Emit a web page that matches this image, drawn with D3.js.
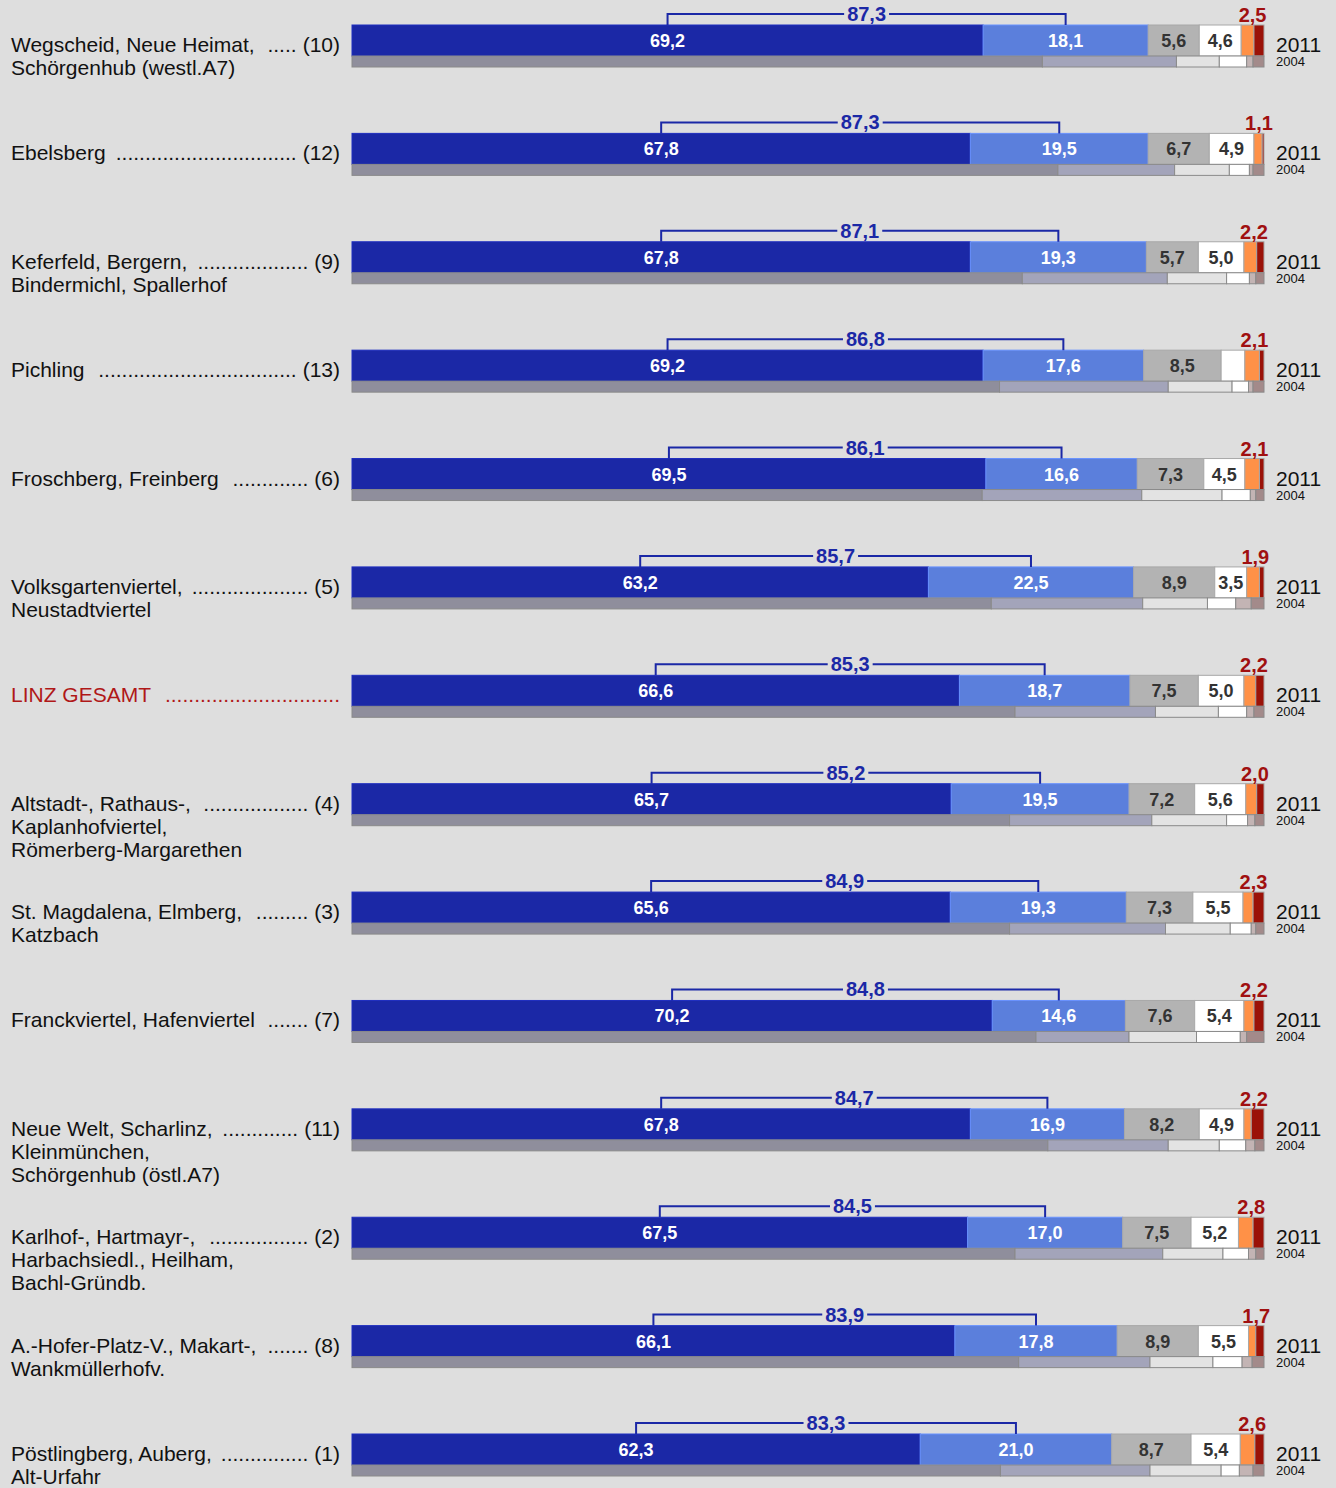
<!DOCTYPE html>
<html>
<head>
<meta charset="utf-8">
<script src="https://cdn.jsdelivr.net/npm/d3@7"></script>
<style>
  body { margin: 0; background: #dedede; }
  svg { display: block; font-family: "Liberation Sans", Arial, sans-serif; }
</style>
</head>
<body>
<script>
const width = 1336;
const height = 1488;

// district labels (lines) and number in brackets
const districtLines = [
  ['Wegscheid, Neue Heimat,', 'Schörgenhub (westl.A7)'],
  ['Ebelsberg'],
  ['Keferfeld, Bergern,', 'Bindermichl, Spallerhof'],
  ['Pichling'],
  ['Froschberg, Freinberg'],
  ['Volksgartenviertel,', 'Neustadtviertel'],
  ['LINZ GESAMT'],
  ['Altstadt-, Rathaus-,', 'Kaplanhofviertel,', 'Römerberg-Margarethen'],
  ['St. Magdalena, Elmberg,', 'Katzbach'],
  ['Franckviertel, Hafenviertel'],
  ['Neue Welt, Scharlinz,', 'Kleinmünchen,', 'Schörgenhub (östl.A7)'],
  ['Karlhof-, Hartmayr-,', 'Harbachsiedl., Heilham,', 'Bachl-Gründb.'],
  ['A.-Hofer-Platz-V., Makart-,', 'Wankmüllerhofv.'],
  ['Pöstlingberg, Auberg,', 'Alt-Urfahr']
];
const districtNo = ['(10)', '(12)', '(9)', '(13)', '(6)', '(5)', '', '(4)', '(3)', '(7)', '(11)', '(2)', '(8)', '(1)'];

// 2011 shares: dark blue, light blue, gray, white, orange, dark red
const shares2011 = [
  [69.2, 18.1, 5.6, 4.6, 1.4, 1.1],
  [67.8, 19.5, 6.7, 4.9, 0.9, 0.2],
  [67.8, 19.3, 5.7, 5.0, 1.4, 0.8],
  [69.2, 17.6, 8.5, 2.6, 1.6, 0.5],
  [69.5, 16.6, 7.3, 4.5, 1.6, 0.5],
  [63.2, 22.5, 8.9, 3.5, 1.4, 0.5],
  [66.6, 18.7, 7.5, 5.0, 1.3, 0.9],
  [65.7, 19.5, 7.2, 5.6, 1.2, 0.8],
  [65.6, 19.3, 7.3, 5.5, 1.1, 1.2],
  [70.2, 14.6, 7.6, 5.4, 1.1, 1.1],
  [67.8, 16.9, 8.2, 4.9, 0.8, 1.4],
  [67.5, 17.0, 7.5, 5.2, 1.6, 1.2],
  [66.1, 17.8, 8.9, 5.5, 0.8, 0.9],
  [62.3, 21.0, 8.7, 5.4, 1.6, 1.0]
];
// label shown in red above the last two segments
const othersLabel = [2.5, 1.1, 2.2, 2.1, 2.1, 1.9, 2.2, 2.0, 2.3, 2.2, 2.2, 2.8, 1.7, 2.6];

// 2004 shares, same order of segments
const shares2004 = [
  [75.7, 14.7, 4.7, 3.0, 0.7, 1.2],
  [77.4, 12.8, 6.0, 2.2, 0.4, 1.2],
  [73.5, 15.9, 6.5, 2.5, 0.7, 0.9],
  [71.0, 18.5, 7.0, 1.8, 0.5, 1.2],
  [69.1, 17.5, 8.8, 3.1, 0.6, 0.9],
  [70.1, 16.6, 7.1, 3.1, 1.7, 1.4],
  [72.7, 15.4, 6.9, 3.1, 0.8, 1.1],
  [72.1, 15.6, 8.2, 2.3, 0.8, 1.0],
  [72.1, 17.1, 7.1, 2.3, 0.5, 0.9],
  [75.0, 10.2, 7.4, 4.8, 0.7, 1.9],
  [76.3, 13.2, 5.6, 2.9, 1.0, 1.0],
  [72.7, 16.2, 6.6, 2.8, 0.8, 0.9],
  [73.1, 14.4, 6.9, 3.2, 1.1, 1.3],
  [71.1, 16.4, 7.8, 2.0, 1.5, 1.2]
];

const colors2011 = ['#1b28a6', '#5b7fdc', '#b3b3b3', '#ffffff', '#ff9147', '#9b1208'];
const colors2004 = ['#8f8e9c', '#a3a4ba', '#e3e3e3', '#ffffff', '#c3b4b4', '#a38a8a'];
const valueColors = ['#ffffff', '#ffffff', '#333333', '#333333'];

const fmt = v => d3.format('.1f')(v).replace('.', ',');

const x = d3.scaleLinear().domain([0, 100]).range([352, 1264]);
const rowY = d3.scaleLinear().domain([0, 13]).range([25, 1434]);
const barH = 31;
const bar04H = 11;

const svg = d3.select('body').append('svg')
  .attr('width', width)
  .attr('height', height);

svg.append('rect').attr('width', width).attr('height', height).attr('fill', '#dedede');

function stackOf(vals) {
  let acc = 0;
  return vals.map((v, i) => {
    const s = {i: i, v: v, x0: acc, x1: acc + v};
    acc += v;
    return s;
  });
}

districtLines.forEach((lines, r) => {
  const top = rowY(r);
  const g = svg.append('g');
  const isTotal = districtNo[r] === '';
  const txtColor = isTotal ? '#b01818' : '#111';

  // left labels
  const lab = g.append('text')
    .attr('x', 11)
    .attr('font-size', 21)
    .attr('fill', txtColor);
  lines.forEach((l, k) => {
    lab.append('tspan').attr('x', 11).attr('y', top + 27 + k * 23).text(l);
  });

  let numStart = 340;
  if (!isTotal) {
    const num = g.append('text')
      .attr('x', 340).attr('y', top + 27)
      .attr('text-anchor', 'end')
      .attr('font-size', 21)
      .attr('fill', txtColor)
      .text(districtNo[r]);
    numStart = 340 - num.node().getComputedTextLength() - 6;
  }
  const firstLen = lab.select('tspan').node().getComputedTextLength();
  const dots = g.append('text')
    .attr('x', numStart).attr('y', top + 27)
    .attr('text-anchor', 'end')
    .attr('font-size', 21)
    .attr('fill', txtColor)
    .text('.');
  const dotW = dots.node().getComputedTextLength();
  const n = Math.floor((numStart - (11 + firstLen + 8)) / dotW);
  dots.text('.'.repeat(Math.max(n, 0)));

  // 2011 bar
  const s11 = stackOf(shares2011[r]);
  g.selectAll('rect.b11').data(s11).join('rect')
    .attr('x', d => x(d.x0))
    .attr('y', top)
    .attr('width', d => x(d.x1) - x(d.x0))
    .attr('height', barH)
    .attr('fill', d => colors2011[d.i])
    .attr('stroke', d => d.i < 2 ? d3.color(colors2011[d.i]).brighter(0.4) : '#a8a8a8')
    .attr('stroke-width', 1);

  g.selectAll('text.v').data(s11.filter(d => d.i < 4 && d.v >= 3)).join('text')
    .attr('x', d => (x(d.x0) + x(d.x1)) / 2)
    .attr('y', top + 22)
    .attr('text-anchor', 'middle')
    .attr('font-size', 18)
    .attr('font-weight', 'bold')
    .attr('fill', d => valueColors[d.i])
    .text(d => fmt(d.v));

  // 2004 bar
  const s04 = stackOf(shares2004[r]);
  g.selectAll('rect.b04').data(s04).join('rect')
    .attr('x', d => x(d.x0))
    .attr('y', top + barH)
    .attr('width', d => x(d.x1) - x(d.x0))
    .attr('height', bar04H)
    .attr('fill', d => colors2004[d.i])
    .attr('stroke', '#8a8a8a')
    .attr('stroke-width', 1);

  // bracket over first two segments
  const bx0 = x((s11[0].x0 + s11[0].x1) / 2);
  const bx1 = x((s11[1].x0 + s11[1].x1) / 2);
  const by = top - 11;
  g.append('path')
    .attr('d', `M${bx0},${top} V${by} H${bx1} V${top}`)
    .attr('fill', 'none')
    .attr('stroke', '#1b28a6')
    .attr('stroke-width', 2);
  const gap = g.append('rect').attr('fill', '#dedede');
  const tot = g.append('text')
    .attr('x', (bx0 + bx1) / 2)
    .attr('y', by + 7)
    .attr('text-anchor', 'middle')
    .attr('font-size', 20)
    .attr('font-weight', 'bold')
    .attr('fill', '#1b28a6')
    .text(fmt(s11[0].v + s11[1].v));
  const bb = tot.node().getBBox();
  gap.attr('x', bb.x - 3).attr('y', by - 3)
    .attr('width', bb.width + 6).attr('height', 6);

  // others label
  g.append('text')
    .attr('x', (x(s11[4].x0) + x(100)) / 2)
    .attr('y', top - 3)
    .attr('text-anchor', 'middle')
    .attr('font-size', 20)
    .attr('font-weight', 'bold')
    .attr('fill', '#a01010')
    .text(fmt(othersLabel[r]));

  // year labels
  g.append('text')
    .attr('x', 1276).attr('y', top + 27)
    .attr('font-size', 21)
    .attr('fill', '#111')
    .text('2011');
  g.append('text')
    .attr('x', 1276).attr('y', top + 41)
    .attr('font-size', 13)
    .attr('fill', '#111')
    .text('2004');
});
</script>
</body>
</html>
